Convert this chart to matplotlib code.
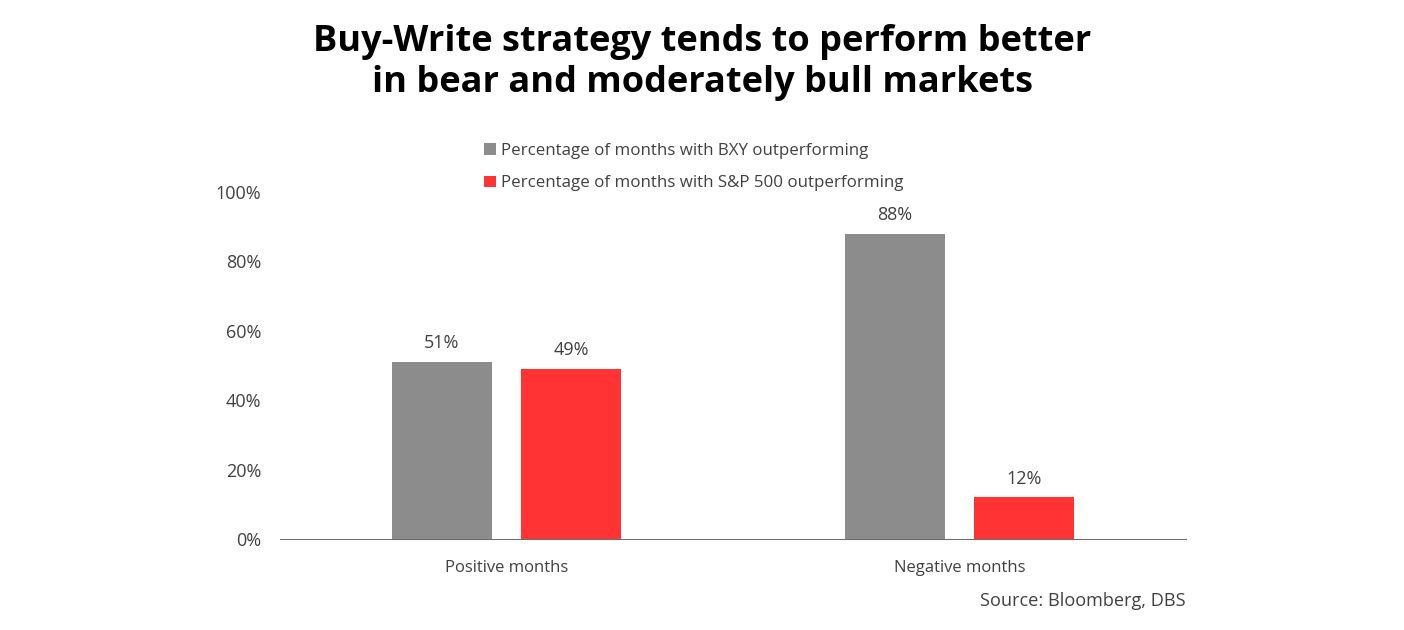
import matplotlib.pyplot as plt
import numpy as np

categories = ['Positive months', 'Negative months']
bxy_pct = [51, 88]
spx_pct = [49, 12]
series_names = ['Percentage of months with BXY outperforming',
                'Percentage of months with S&P 500 outperforming']
yticks = [0, 20, 40, 60, 80, 100]

plt.rcParams['font.family'] = ['Open Sans', 'DejaVu Sans']

fig = plt.figure(figsize=(14.04, 6.3), dpi=100)
ax = fig.add_axes([0.1994, 0.1444, 0.6453, 0.5508])

gray = '#8c8c8c'
red = '#ff3333'
txt = '#404040'
x = np.arange(len(categories))
w = 0.221
off = 0.1424

b1 = ax.bar(x - off, bxy_pct, w, color=gray, label=series_names[0])
b2 = ax.bar(x + off, spx_pct, w, color=red, label=series_names[1])

# value labels above bars
for bars in (b1, b2):
    for r in bars:
        ax.annotate(f'{r.get_height():.0f}%', (r.get_x() + r.get_width() / 2, r.get_height()),
                    xytext=(0, 7), textcoords='offset points', ha='center', va='bottom',
                    fontsize=13, color=txt)

ax.set_xlim(-0.5, 1.5)
ax.set_ylim(0, 100)
ax.set_yticks(yticks)
ax.set_yticklabels([f'{t}%' for t in yticks])
ax.set_xticks(x)
ax.set_xticklabels(categories)
ax.tick_params(length=0, labelsize=12, labelcolor=txt)
ax.tick_params(axis='y', pad=13.5, labelsize=13)
ax.tick_params(axis='x', pad=15)
for s in ['top', 'right', 'left']:
    ax.spines[s].set_visible(False)
ax.spines['bottom'].set_color('#707070')

leg = fig.legend(handles=[b1, b2], loc='upper left', bbox_to_anchor=(0.334, 0.797),
                 frameon=False, fontsize=12.15, handlelength=0.7, handleheight=0.7,
                 handletextpad=0.3, labelspacing=0.97)
for t in leg.get_texts():
    t.set_color(txt)

fig.text(0.5, 0.962, 'Buy-Write strategy tends to perform better\nin bear and moderately bull markets',
         ha='center', va='top', fontsize=26, fontweight='bold', linespacing=1.17)
fig.text(0.8447, 0.046, 'Source: Bloomberg, DBS', ha='right', va='center', fontsize=13.1, color=txt)

fig.savefig('out.png', dpi=100)
